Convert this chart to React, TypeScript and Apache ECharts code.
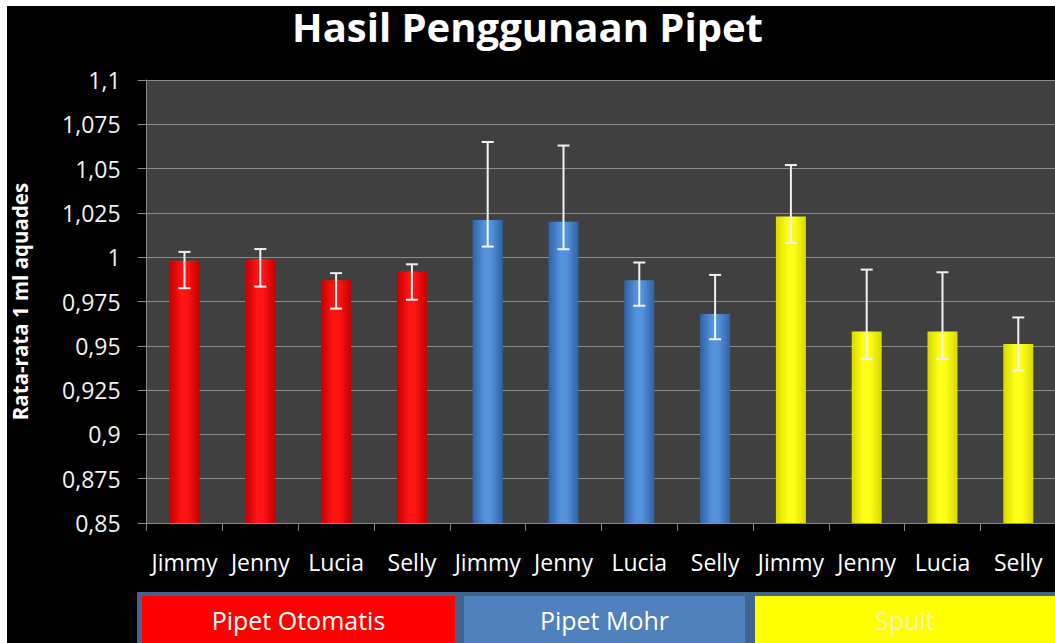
import React, { useEffect, useRef } from 'react';
import * as echarts from 'echarts';

const groups = ['Pipet Otomatis', 'Pipet Mohr', 'Spuit'];
const names = ['Jimmy', 'Jenny', 'Lucia', 'Selly'];

const otomatis = [0.998, 0.999, 0.987, 0.992];
const mohr = [1.021, 1.020, 0.987, 0.968];
const spuit = [1.023, 0.958, 0.958, 0.951];

const otomatisHigh = [1.003, 1.0046, 0.991, 0.996];
const mohrHigh = [1.065, 1.063, 0.997, 0.990];
const spuitHigh = [1.052, 0.993, 0.9915, 0.966];

const otomatisLow = [0.9825, 0.9834, 0.971, 0.976];
const mohrLow = [1.006, 1.0045, 0.9726, 0.9537];
const spuitLow = [1.008, 0.9426, 0.9426, 0.936];

const yTicks = [0.85, 0.875, 0.9, 0.925, 0.95, 0.975, 1, 1.025, 1.05, 1.075, 1.1];

const FONT = '"Open Sans", "Noto Sans", sans-serif';

const grad = (edge: string, center: string) =>
  new echarts.graphic.LinearGradient(0, 0, 1, 0, [
    { offset: 0, color: edge },
    { offset: 0.4, color: center },
    { offset: 0.6, color: center },
    { offset: 1, color: edge },
  ]);

export default function App() {
  const ref = useRef<HTMLDivElement>(null);
  useEffect(() => {
    if (!ref.current) return;
    const chart = echarts.init(ref.current, undefined, { renderer: 'svg' });
    const categories = groups.flatMap(() => names);
    const values = [otomatis, mohr, spuit];
    const highs = [otomatisHigh, mohrHigh, spuitHigh];
    const lows = [otomatisLow, mohrLow, spuitLow];
    const fills = [
      grad('#c40000', '#ff1414'),
      grad('#2f62a8', '#5592dc'),
      grad('#d8d800', '#ffff18'),
    ];
    const barData: any[] = [];
    const errData: any[] = [];
    values.forEach((arr, g) => {
      arr.forEach((v, i) => {
        const idx = g * names.length + i;
        barData.push({ value: v, itemStyle: { color: fills[g] } });
        errData.push([idx, lows[g][i], highs[g][i]]);
      });
    });
    const boxFill = ['#ff0000', '#4f81bd', '#ffff00'];
    const boxText = ['#ffffff', '#ffffff', '#f4f4b8'];
    const boxX = [142, 464, 755];
    const boxW = [313, 281, 300];

    const fmt = (v: number) => {
      const t = yTicks.find((x) => Math.abs(x - v) < 1e-6);
      const n = t !== undefined ? t : v;
      return String(Number(n.toFixed(3))).replace('.', ',');
    };

    chart.setOption({
      animation: false,
      backgroundColor: '#000000',
      title: {
        text: 'Hasil Penggunaan Pipet',
        left: 'center',
        top: 1,
        textStyle: { color: '#ffffff', fontFamily: FONT, fontWeight: 'bold', fontSize: 40 },
      },
      grid: {
        left: 146.6,
        top: 80,
        width: 909.6,
        height: 443,
        show: true,
        backgroundColor: '#404040',
        borderWidth: 0,
        outerBoundsMode: 'none',
        containLabel: false,
      },
      xAxis: {
        type: 'category',
        data: categories,
        axisLine: { lineStyle: { color: '#8a8a8a', width: 1 } },
        axisTick: { show: true, length: 8, lineStyle: { color: '#8a8a8a' } },
        axisLabel: { color: '#ffffff', fontFamily: FONT, fontSize: 23, margin: 27, interval: 0 },
      },
      yAxis: {
        type: 'value',
        min: 0.85,
        max: 1.1,
        interval: 0.025,
        name: 'Rata-rata 1 ml aquades',
        nameLocation: 'middle',
        nameGap: 116,
        nameTextStyle: { color: '#ffffff', fontFamily: FONT, fontWeight: 'bold', fontSize: 20.5 },
        axisLine: { show: true, lineStyle: { color: '#8a8a8a', width: 1 } },
        axisTick: { show: true, length: 9, lineStyle: { color: '#8a8a8a' } },
        splitLine: { show: true, lineStyle: { color: '#8c8c8c', width: 1 } },
        axisLabel: { color: '#f2f2f2', fontFamily: FONT, fontSize: 23, margin: 26, formatter: fmt },
      },
      graphic: [
        { type: 'rect', shape: { x: 0, y: 0, width: 1055, height: 6 }, style: { fill: '#ffffff' } },
        { type: 'rect', shape: { x: 0, y: 0, width: 7, height: 643 }, style: { fill: '#ffffff' } },
        { type: 'rect', shape: { x: 137, y: 592, width: 918, height: 51 }, style: { fill: '#41658f' } },
        ...groups.map((g, i) => ({
          type: 'rect',
          shape: { x: boxX[i], y: 596, width: boxW[i], height: 47 },
          style: { fill: boxFill[i] },
        })),
        ...groups.map((g, i) => ({
          type: 'text',
          x: boxX[i] + boxW[i] / 2,
          y: 620,
          style: {
            text: g,
            fill: boxText[i],
            font: `25px ${FONT}`,
            textAlign: 'center',
            textVerticalAlign: 'middle',
          },
        })),
      ],
      series: [
        {
          type: 'bar',
          data: barData,
          barWidth: 30,
          z: 2,
        },
        {
          type: 'custom',
          data: errData,
          encode: { x: 0, y: [1, 2] },
          z: 5,
          renderItem: (params: any, api: any) => {
            const x = api.value(0);
            const lo = api.coord([x, api.value(1)]);
            const hi = api.coord([x, api.value(2)]);
            const hw = 6;
            const style = { stroke: '#f2f2f2', lineWidth: 2 };
            return {
              type: 'group',
              children: [
                { type: 'line', shape: { x1: hi[0], y1: hi[1], x2: lo[0], y2: lo[1] }, style },
                { type: 'line', shape: { x1: hi[0] - hw, y1: hi[1], x2: hi[0] + hw, y2: hi[1] }, style },
                { type: 'line', shape: { x1: lo[0] - hw, y1: lo[1], x2: lo[0] + hw, y2: lo[1] }, style },
              ],
            };
          },
        },
      ],
    });
    return () => chart.dispose();
  }, []);
  return (
    <div
      ref={ref}
      style={{ position: 'fixed', left: 0, top: 0, width: 1055, height: 643 }}
    />
  );
}
